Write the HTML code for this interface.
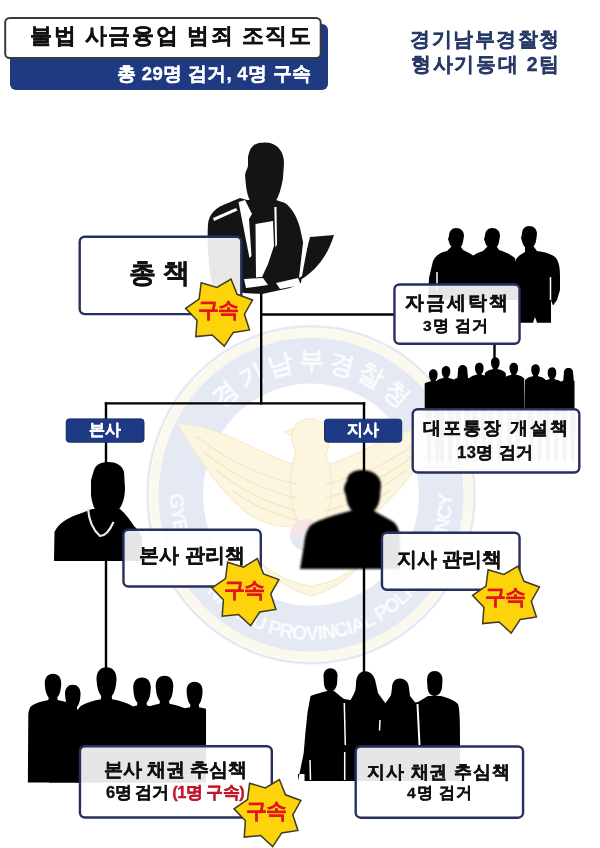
<!DOCTYPE html>
<html><head><meta charset="utf-8">
<title>불법 사금융업 범죄 조직도</title>
<style>
*{margin:0;padding:0;box-sizing:border-box}
html,body{width:600px;height:848px;overflow:hidden;background:#fff}
body{position:relative;font-family:"Liberation Sans",sans-serif;font-weight:bold;color:#111}
svg.layer{position:absolute;left:0;top:0}
.t{position:absolute;white-space:nowrap;line-height:1;-webkit-text-stroke:0.35px currentColor;will-change:transform}
.badge{position:absolute;white-space:nowrap;line-height:1;will-change:transform;color:#e3141b;font-size:20.5px;letter-spacing:-1.2px;-webkit-text-stroke:0.3px currentColor}
</style></head>
<body>
<svg class="layer" width="600" height="848" viewBox="0 0 600 848">
  <defs>
    <path id="arcTop" d="M189,494.7 A122,122 0 0 1 433,494.7"/>
    <path id="arcBot" d="M174.8,458.2 A141,141 0 1 0 447.2,458.2"/>
    <path id="gm" d="M0,0 C5,0 8,3.5 8,9.5 L7.6,14 C7,18.5 5.6,21.5 4.2,23 L4.5,25.5 C10,26.5 16,28 20,30.5 C23,32.5 24,36 24,42 L24.5,120 L-24.5,120 L-24,42 C-24,36 -23,32.5 -20,30.5 C-16,28 -10,26.5 -4.5,25.5 L-4.2,23 C-5.6,21.5 -7,18.5 -7.6,14 L-8,9.5 C-8,3.5 -5,0 0,0 Z"/>
    <path id="cp" d="M0,0 C2.7,0 4.3,2.2 4.3,5.2 C4.3,8 3.4,10 2.4,11 L2.5,12 C5.5,12.8 9,13.5 10.5,16 L11,60 L-11,60 L-10.5,16 C-9,13.5 -5.5,12.8 -2.5,12 L-2.4,11 C-3.4,10 -4.3,8 -4.3,5.2 C-4.3,2.2 -2.7,0 0,0 Z"/>
    <path id="cw" d="M-4.6,5 C-4.6,1.5 -2.5,0 0,0 C2.5,0 4.6,1.5 4.6,5 L5.4,14 L-5.4,14 Z"/>
    <filter id="soft" x="-10%" y="-10%" width="120%" height="120%"><feGaussianBlur stdDeviation="1.1"/></filter>
    <clipPath id="clipCrowd"><rect x="424.7" y="340" width="149.8" height="69"/></clipPath>
    <clipPath id="clipB6"><rect x="20" y="650" width="186" height="132.5"/></clipPath>
    <polygon id="star" points="4.3,34.3 -7.8,23.2 -24.2,24.8 -23.0,8.4 -34.4,-3.5 -20.9,-12.8 -18.8,-29.1 -3.0,-24.3 11.0,-32.8 17.1,-17.5 32.5,-11.8 24.4,2.5 29.5,18.1 13.3,20.6"/>
  </defs>

  <!-- ===== watermark emblem ===== -->
  <g transform="translate(311,494.7) scale(1,1.03) translate(-311,-494.7)">
    <circle cx="311" cy="494.7" r="163.5" fill="none" stroke="#e6e9ef" stroke-width="2.5"/>
    <circle cx="311" cy="494.7" r="157" fill="none" stroke="#fbf8ee" stroke-width="9"/>
    <circle cx="311" cy="494.7" r="130.2" fill="none" stroke="#e5e9f3" stroke-width="44.6"/>
    <text font-family="Liberation Sans, sans-serif" font-weight="bold" font-size="25" fill="#fafbfd"><textPath href="#arcTop" startOffset="50%" text-anchor="middle" textLength="200" lengthAdjust="spacing">경기남부경찰청</textPath></text>
    <text font-family="Liberation Sans, sans-serif" font-weight="bold" font-size="19.5" fill="#fafbfd"><textPath href="#arcBot" startOffset="50%" text-anchor="middle" textLength="445" lengthAdjust="spacing">GYEONGGI NAMBU PROVINCIAL POLICE AGENCY</textPath></text>
  </g>
  <g>
    <!-- eagle -->
    <g fill="#fcf5e0" stroke="#f6eacb" stroke-width="1.2" stroke-linejoin="round">
      <path d="M178,424 C196,424 222,432 246,444 C266,454 284,462 298,466 L300,524 C282,530 262,524 246,512 C226,496 202,466 178,424 Z"/>
      <path d="M444,424 C426,424 400,432 376,444 C356,454 338,462 324,466 L322,524 C340,530 360,524 376,512 C396,496 420,466 444,424 Z"/>
      <path d="M296,452 C292,444 290,436 294,428 C297,421 305,418 313,419 C321,420 327,426 328,434 C330,442 328,450 326,456 C334,474 334,500 324,522 L311,536 L298,522 C288,500 288,474 296,452 Z"/>
      <path d="M294,428 L284,432 L292,436 Z"/>
      <path d="M250,548 C262,572 288,590 311,596 C334,590 360,572 372,548 C362,566 340,582 311,586 C282,582 260,566 250,548 Z"/>
    </g>
    <g fill="none" stroke="#f4e6c2" stroke-width="1.3">
      <path d="M196,436 C222,456 252,474 296,484"/>
      <path d="M204,452 C228,472 256,488 296,498"/>
      <path d="M216,470 C238,488 262,502 297,511"/>
      <path d="M232,490 C250,504 270,514 298,520"/>
      <path d="M426,436 C400,456 370,474 326,484"/>
      <path d="M418,452 C394,472 366,488 326,498"/>
      <path d="M406,470 C384,488 360,502 325,511"/>
      <path d="M390,490 C372,504 352,514 324,520"/>
    </g>
    <path d="M290,535 A16,16 0 0 1 322,535 Z" fill="#f8e4e4"/>
    <path d="M290,535 A16,16 0 0 0 322,535 Z" fill="#e5e8f2"/>
  </g>

  <!-- ===== connector lines ===== -->
  <g stroke="#000" stroke-width="2.4" fill="none">
    <line x1="261.2" y1="284" x2="261.2" y2="404.5"/>
    <line x1="261" y1="314.5" x2="394" y2="314.5"/>
    <line x1="494.5" y1="344" x2="494.5" y2="360"/>
    <line x1="104.8" y1="403.4" x2="365.2" y2="403.4"/>
    <line x1="106" y1="402.2" x2="106" y2="672"/>
    <line x1="364" y1="402.2" x2="364" y2="674"/>
  </g>

  <!-- ===== boss (man in suit with laptop) ===== -->
  <g fill="#141414">
    <path d="M254,145 C258,142 266,142 270,143 C278,145 284,152 284,163 L283,178 C281,190 278,200 272,206 C267,210 260,211 255,207 C250,203 247,195 246,186 L245,175 C246,170 248,168 248,165 L248,157 C249,151 251,147 254,145 Z"/>
    <path d="M208,224 C209,214 216,207 228,203 L240,198 L247,200 L276,200 L285,203 C292,208 297,217 300,228 L303,242 L305,253 L301,283 L290,288 L262,294 L244,293 L212,285 C208,265 207,240 208,224 Z"/>
    <path d="M310,237 L334,235 C328,255 316,271 300,280 L302,268 Z"/>
  </g>
  <g fill="#fff">
    <path d="M255.5,224 L273,221 L274,246 L268,264 L262,277 L256,277.5 Z"/>
    <path d="M238.5,202 L245,200 L252,214 L249,219 L251.5,256 L249.5,258 Z"/>
    <path d="M274.3,207 L276.5,207 L277,245 L275.3,247 Z"/>
    <path d="M303,243 L309,238 L302,276 L299,278 Z"/>
    <path d="M244,279 L263,278 L268,285 L246,288 Z"/>
    <path d="M276,283 L298,278 L301,285 L280,289 Z"/>
    <path d="M213,218 L236,208 L237.5,210.5 L214,221 Z"/>
  </g>

  <!-- ===== three men (money laundering) ===== -->
  <g fill="#000">
    <path d="M449,236 C449,231 452,228 456,228 C461,228 464,231 464,236 L463,242 C462,247 459,249 456,249 C453,249 450,246 449,242 L448,239 Z"/>
    <path d="M451,247 L461,247 L463,250 C470,253 475,256 478,260 L478,300 L428,300 L429,278 L433,261 C436,255 441,252 447,251 Z"/>
    <path d="M485,236 C485,231 488,228 492,228 C497,228 500,231 500,236 L499,242 C498,247 495,249 492,249 C489,249 486,246 485,242 L484,239 Z"/>
    <path d="M487,247 L497,247 L499,250 C506,252 511,255 515,258 L518,300 L466,300 L467,262 C470,257 476,253 483,251 Z"/>
    <path d="M522,234 C522,229 525,226 529,226 C534,226 537,229 537,234 L536,241 C535,246 532,249 529,249 C526,249 523,246 522,241 L521,238 Z"/>
    <path d="M525,247 L534,247 L537,251 C545,252 552,254 556,258 C559,262 560,268 560,276 L560,290 L557,300 L553,305.5 L551,300 L551,322.7 L537,322.7 L535,317 L533,322.7 L519,322.7 L517,290 L514,268 C514,262 516,258 520,255 L525,252 Z"/>
  </g>
  <path d="M550.5,277 L550.5,300" stroke="#fff" stroke-width="1.5"/>
  <path d="M437,272 L437,290" stroke="#fff" stroke-width="1.5"/>

  <!-- ===== crowd (bank-account openers) ===== -->
  <g fill="#000" clip-path="url(#clipCrowd)">
    <use href="#cp" x="433.3" y="369.3"/>
    <use href="#cp" x="446.0" y="366.0"/>
    <use href="#cp" x="462.7" y="365.3"/>
    <use href="#cw" x="462.7" y="365.3"/>
    <use href="#cp" x="479.3" y="362.7"/>
    <use href="#cp" x="495.3" y="357.3"/>
    <use href="#cp" x="513.8" y="362.8"/>
    <use href="#cp" x="535.5" y="364.2"/>
    <use href="#cp" x="552.0" y="367.2"/>
    <use href="#cp" x="568.5" y="368.0"/>
    <use href="#cw" x="568.5" y="368.0"/>
  </g>

  <g fill="#000" opacity="0.4">
    <path d="M425.3,409 L432.3,409 L430.8,462 L427.8,462 Z"/>
    <path d="M434.3,409 L441.3,409 L438.8,462 L435.8,462 Z"/>
    <path d="M438.0,409 L445.0,409 L443.5,462 L440.5,462 Z"/>
    <path d="M447.0,409 L454.0,409 L451.5,462 L448.5,462 Z"/>
    <path d="M454.7,409 L461.7,409 L460.2,462 L457.2,462 Z"/>
    <path d="M463.7,409 L470.7,409 L468.2,462 L465.2,462 Z"/>
    <path d="M471.3,409 L478.3,409 L476.8,462 L473.8,462 Z"/>
    <path d="M480.3,409 L487.3,409 L484.8,462 L481.8,462 Z"/>
    <path d="M487.3,409 L494.3,409 L492.8,462 L489.8,462 Z"/>
    <path d="M496.3,409 L503.3,409 L500.8,462 L497.8,462 Z"/>
    <path d="M505.8,409 L512.8,409 L511.2,462 L508.2,462 Z"/>
    <path d="M514.8,409 L521.8,409 L519.2,462 L516.2,462 Z"/>
    <path d="M527.5,409 L534.5,409 L533.0,462 L530.0,462 Z"/>
    <path d="M536.5,409 L543.5,409 L541.0,462 L538.0,462 Z"/>
    <path d="M544.0,409 L551.0,409 L549.5,462 L546.5,462 Z"/>
    <path d="M553.0,409 L560.0,409 L557.5,462 L554.5,462 Z"/>
    <path d="M560.5,409 L567.5,409 L566.0,462 L563.0,462 Z"/>
    <path d="M569.5,409 L576.5,409 L574.0,462 L571.0,462 Z"/>
  </g>

  <!-- ===== HQ manager (with necklace) ===== -->
  <g fill="#000">
    <path d="M94,470 C96,464 102,462 108,462 C116,462 122,465 124,472 L125,488 C125,500 121,510 113,515 L100,516 C95,512 92,504 91,495 L91,480 Z"/>
    <path d="M92,509 L120,509 C126,514 130,520 134,526 C138,530 142,534 142,540 L142,561 L54,561 L54.5,532 C58,524 66,519 76,515 C82,513 87,511 92,509 Z"/>
  </g>
  <path d="M88,509 C89,520 93,530 100,536 C105,536 110,530 113.5,522" stroke="#ececec" stroke-width="2.2" fill="none"/>

  <!-- ===== branch manager ===== -->
  <g fill="#000" filter="url(#soft)">
    <path d="M347,481 C347,474 353,470 362,470 C372,470 380,475 381,484 L380,497 C379,506 375,512 368,514 L356,514 C350,511 347,504 346,496 L344,490 C344,486 345,484 347,481 Z"/>
    <path d="M350,511 L374,511 C380,514 386,518 392,521 C397,524 400,530 400,540 L400,569 L300,569 L304,545 C305,535 307,529 311,525 C320,519 335,515 350,511 Z"/>
  </g>

  <!-- ===== HQ debt collectors (6) ===== -->
  <g fill="#000" clip-path="url(#clipB6)">
    <use href="#gm" transform="translate(72.8,684.8) scale(0.97)"/>
    <use href="#gm" transform="translate(194.6,681.7) scale(1.00)"/>
    <use href="#gm" transform="translate(53.0,673.8) scale(1.03)"/>
    <use href="#gm" transform="translate(142.0,677.5) scale(1.10)"/>
    <use href="#gm" transform="translate(164.5,675.8) scale(1.10)"/>
    <use href="#gm" transform="translate(106.5,667.3) scale(1.25)"/>
  </g>

  <!-- ===== branch debt collectors (4) ===== -->
  <g fill="#000">
    <path d="M323.5,676 C323.5,671 326.5,668.2 330.4,668.2 C334.5,668.2 337.5,671 337.5,676 L337,684 C336,689 333.5,691.5 330.4,691.5 C327,691.5 324.5,689 324,684 Z"/>
    <path d="M356,684 C356,676 359.5,671.2 365,671.2 C371,671.2 375,676 376,684 L378,693 C382,699 386,704 389,708 L345,708 C349,702 353,697 355.5,690 Z"/>
    <path d="M392,688 C392,681.5 395.5,678.5 400,678.5 C405,678.5 408.5,682 409,688 L410,696 C413,700 416,703 418,706 L383,706 C386,702 389,699 391,695 Z"/>
    <path d="M427,680 C427,674 430.5,671 434.6,671 C439,671 442.5,674 442.5,680 L442,688 C441,693 438,696 434.6,696 C431,696 428,693 427.5,688 Z"/>
    <path d="M310.5,696 C316,694 322,692 327,691 L334,691 C338,694 341,697 344,699 L350,700 L360,705 L382,706 L395,703 L408,704 L418,702 L428,696 L441,696 C448,698 454,700 458,704 C460,710 460,725 460,745 L460,781 L304.5,781 L304.5,774 L298,774 L298,781 L303.7,753 L305.2,735 L307.5,712.5 Z"/>
  </g>
  <g stroke="#fff" stroke-width="1.5">
    <path d="M344.3,703 L345.3,745"/>
    <path d="M417.5,704 L419.5,745" stroke-width="2"/>
    <path d="M380,720 L379.5,730.5"/>
    <path d="M310,760 L310.5,780"/>
    <path d="M344.7,752 L344.7,780"/>
  </g>

  <!-- ===== header ===== -->
  <rect x="10" y="24" width="318" height="66" rx="6" fill="#1f3a80"/>
  <rect x="5.2" y="18" width="315.5" height="40" rx="4.5" fill="#fff" stroke="#3a3a3c" stroke-width="2"/>

  <!-- ===== boxes ===== -->
  <g fill="#fff" fill-opacity="0.9" stroke="#272f5f" stroke-width="2.4">
    <rect x="79.7" y="236.7" width="161.6" height="77.4" rx="5"/>
    <rect x="394.45" y="284.45" width="125.1" height="59.3" rx="5"/>
    <rect x="412.7" y="409.2" width="166.6" height="63.3" rx="5"/>
    <rect x="123.45" y="529.7" width="137.35" height="56.85" rx="5"/>
    <rect x="381.95" y="532.7" width="137.6" height="57.1" rx="5"/>
    <rect x="79.95" y="746.2" width="191.85" height="71.35" rx="5"/>
    <rect x="355.7" y="746.45" width="167.35" height="71.25" rx="5"/>
  </g>
  <!-- ===== labels ===== -->
  <g fill="#1f3a85" stroke="#1b2c68" stroke-width="1">
    <rect x="66.2" y="418.9" width="77.8" height="23.3" rx="3"/>
    <rect x="324.5" y="419.2" width="77.2" height="23" rx="3"/>
  </g>

  <!-- ===== badges ===== -->
  <g fill="#fdd40b" stroke="#3f3a22" stroke-width="1.5" stroke-linejoin="miter">
    <use href="#star" x="220.0" y="311.8"/>
    <use href="#star" x="246.4" y="591.4"/>
    <use href="#star" x="506.9" y="598.8"/>
    <use href="#star" x="268.4" y="812.3"/>
  </g>
</svg>

<!-- ===== texts ===== -->
<div class="t" style="left:29.8px;top:26px;font-size:21.5px;letter-spacing:1.63px;color:#111">불법 사금융업 범죄 조직도</div>
<div class="t" style="left:116.5px;top:64.5px;font-size:18.5px;letter-spacing:0.32px;color:#fff">총 29명 검거, 4명 구속</div>
<div class="t" style="left:409.5px;top:29.5px;font-size:19.5px;letter-spacing:1.58px;color:#283a68">경기남부경찰청</div>
<div class="t" style="left:411px;top:55px;font-size:19.5px;letter-spacing:1.71px;color:#283a68">형사기동대 2팀</div>

<div class="t" style="left:129.4px;top:260.4px;font-size:26.5px;letter-spacing:-0.3px">총 책</div>
<div class="t" style="left:404.5px;top:294.4px;font-size:18.5px;letter-spacing:2.12px">자금세탁책</div>
<div class="t" style="left:422.8px;top:318.2px;font-size:15.5px;letter-spacing:1.1px">3명 검거</div>
<div class="t" style="left:422.7px;top:419.6px;font-size:17.5px;letter-spacing:2.04px">대포통장 개설책</div>
<div class="t" style="left:457.2px;top:443.8px;font-size:16.5px;letter-spacing:0.51px">13명 검거</div>
<div class="t" style="left:89px;top:421.9px;font-size:15.5px;letter-spacing:-0.2px;color:#fff">본사</div>
<div class="t" style="left:347.3px;top:422.3px;font-size:15.5px;letter-spacing:-0.1px;color:#fff">지사</div>
<div class="t" style="left:139px;top:546px;font-size:19.5px;letter-spacing:0.2px">본사 관리책</div>
<div class="t" style="left:397px;top:549.6px;font-size:19.5px;letter-spacing:0px">지사 관리책</div>
<div class="t" style="left:104px;top:760.5px;font-size:18.5px;letter-spacing:-0.06px">본사 채권 추심책</div>
<div class="t" style="left:105.7px;top:784.3px;font-size:16.5px;letter-spacing:-0.52px">6명 검거 <span style="color:#c3142a">(1명 구속)</span></div>
<div class="t" style="left:367px;top:763.5px;font-size:17.5px;letter-spacing:0.88px">지사 채권 추심책</div>
<div class="t" style="left:406.7px;top:785.2px;font-size:15.5px;letter-spacing:0.9px">4명 검거</div>

<div class="badge" style="left:198px;top:300.2px">구속</div>
<div class="badge" style="left:224.4px;top:579.8px">구속</div>
<div class="badge" style="left:484.9px;top:587.2px">구속</div>
<div class="badge" style="left:246.4px;top:800.7px">구속</div>
</body></html>
